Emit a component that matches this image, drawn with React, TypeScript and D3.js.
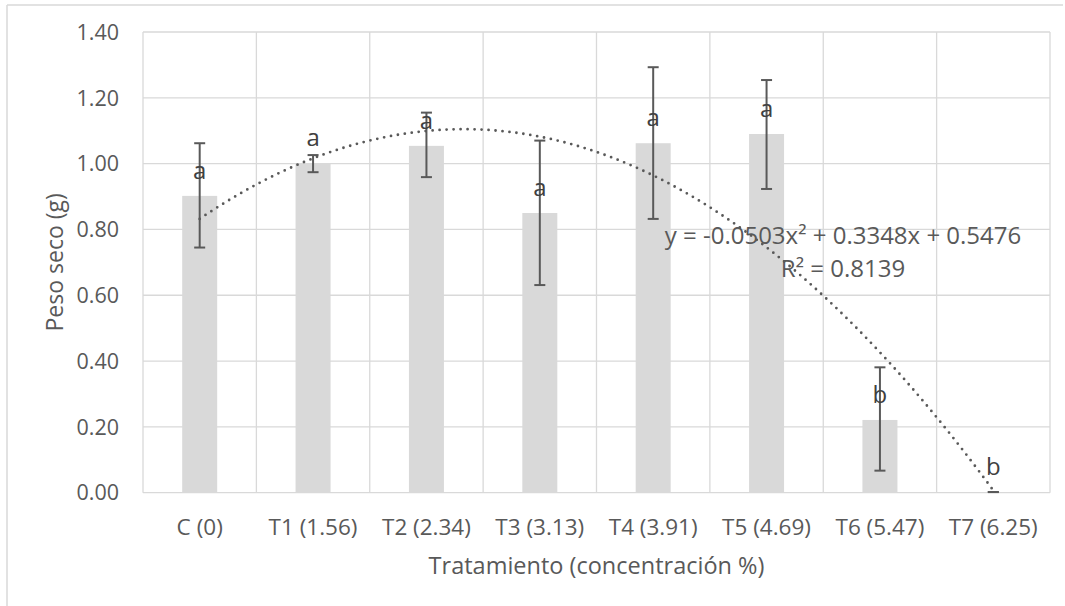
import React from "react";
import * as d3 from "d3";

const categories = ["C (0)", "T1 (1.56)", "T2 (2.34)", "T3 (3.13)", "T4 (3.91)", "T5 (4.69)", "T6 (5.47)", "T7 (6.25)"];
const means = [0.902, 1.001, 1.054, 0.85, 1.062, 1.09, 0.221, 0.002];
const errLow = [0.745, 0.974, 0.959, 0.631, 0.832, 0.923, 0.067, 0.002];
const errHigh = [1.062, 1.026, 1.155, 1.07, 1.293, 1.254, 0.381, 0.002];
const letters = ["a", "a", "a", "a", "a", "a", "b", "b"];
const yTicks = [0, 0.2, 0.4, 0.6, 0.8, 1.0, 1.2, 1.4];
const trendCoef = [-0.0503, 0.3348, 0.5476];
const equationText = "y = -0.0503x² + 0.3348x + 0.5476";
const r2Text = "R² = 0.8139";
const xTitle = "Tratamiento (concentración %)";
const yTitle = "Peso seco (g)";

const W = 1065;
const H = 606;
const FONT = "'Open Sans', 'Noto Sans', sans-serif";
const TXT = "#595959";

export default function App() {
  const left = 143, right = 1050, top = 32, bottom = 492.7;
  const x = d3.scaleBand<string>().domain(categories).range([left, right]).paddingInner(0).paddingOuter(0);
  const y = d3.scaleLinear().domain([0, 1.4]).range([bottom, top]);
  const bw = 35;
  const cx = (i: number) => (x(categories[i]) as number) + x.bandwidth() / 2;

  const xs = d3.range(1, 8.0001, 0.05);
  const xi = d3.scaleLinear().domain([1, 8]).range([cx(0), cx(7)]);
  const trend = d3.line<number>()
    .x((v) => xi(v))
    .y((v) => y(trendCoef[0] * v * v + trendCoef[1] * v + trendCoef[2]))(xs);

  return (
    <svg width={W} height={H} style={{ position: "absolute", left: 0, top: 0, background: "#fff" }}>
      {/* chart frame */}
      <line x1={7} y1={5} x2={1063} y2={5} stroke="#d9d9d9" strokeWidth={1.5} />
      <line x1={7} y1={5} x2={7} y2={H} stroke="#d9d9d9" strokeWidth={1.5} />

      {/* horizontal gridlines */}
      {yTicks.map((t) => (
        <line key={"h" + t} x1={left} x2={right} y1={y(t)} y2={y(t)} stroke="#d9d9d9" strokeWidth={1.3} />
      ))}
      {/* vertical gridlines */}
      {d3.range(categories.length + 1).map((i) => {
        const xx = left + i * x.step();
        return <line key={"v" + i} x1={xx} x2={xx} y1={top} y2={bottom} stroke="#d9d9d9" strokeWidth={1.3} />;
      })}

      {/* bars */}
      {means.map((m, i) => (
        <rect key={"b" + i} x={cx(i) - bw / 2} y={y(m)} width={bw} height={bottom - y(m)} fill="#d9d9d9" />
      ))}

      {/* error bars */}
      {means.map((m, i) => (
        <g key={"e" + i} stroke="#595959" strokeWidth={2}>
          <line x1={cx(i)} x2={cx(i)} y1={y(errLow[i])} y2={y(errHigh[i])} />
          <line x1={cx(i) - 5.5} x2={cx(i) + 5.5} y1={y(errLow[i])} y2={y(errLow[i])} />
          <line x1={cx(i) - 5.5} x2={cx(i) + 5.5} y1={y(errHigh[i])} y2={y(errHigh[i])} />
        </g>
      ))}

      {/* trendline */}
      <path d={trend || ""} fill="none" stroke="#595959" strokeWidth={2.8} strokeDasharray="0 7" strokeLinecap="round" />

      {/* letters */}
      {means.map((m, i) => (
        <text key={"l" + i} x={cx(i)} y={y(m) - 17} textAnchor="middle" fontFamily={FONT} fontSize={24} fill="#404040">
          {letters[i]}
        </text>
      ))}

      {/* y tick labels */}
      {yTicks.map((t) => (
        <text key={"yt" + t} x={119} y={y(t)} dy="0.36em" textAnchor="end" fontFamily={FONT} fontSize={21.5} fill={TXT}>
          {t.toFixed(2)}
        </text>
      ))}
      {/* x tick labels */}
      {categories.map((c, i) => (
        <text key={"xt" + i} x={cx(i)} y={535} textAnchor="middle" fontFamily={FONT} fontSize={22.5} fill={TXT}>
          {c}
        </text>
      ))}

      {/* axis titles */}
      <text x={(left + right) / 2} y={574} textAnchor="middle" fontFamily={FONT} fontSize={23.5} fill={TXT}>{xTitle}</text>
      <text transform={`translate(63,${(top + bottom) / 2}) rotate(-90)`} textAnchor="middle" fontFamily={FONT} fontSize={23} fill={TXT}>{yTitle}</text>

      {/* equation */}
      <text x={843} y={244} textAnchor="middle" fontFamily={FONT} fontSize={24} fill={TXT}>{equationText}</text>
      <text x={843} y={277} textAnchor="middle" fontFamily={FONT} fontSize={24} fill={TXT}>{r2Text}</text>
    </svg>
  );
}
